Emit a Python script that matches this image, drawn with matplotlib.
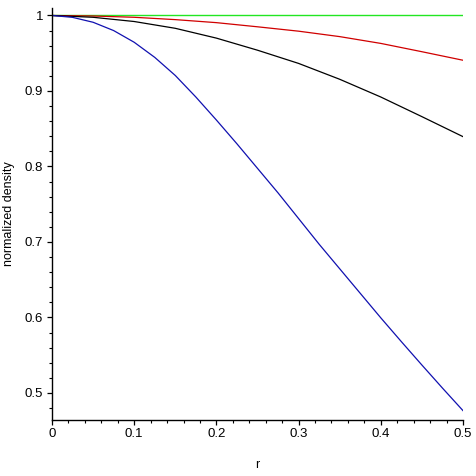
import matplotlib
matplotlib.use("Agg")
import matplotlib.pyplot as plt
from matplotlib.ticker import MultipleLocator

plt.rcParams['font.family'] = ['Liberation Sans', 'DejaVu Sans']

# values
r_coarse = [0.0, 0.05, 0.1, 0.15, 0.2, 0.25, 0.3, 0.35, 0.4, 0.45, 0.5]
green = [1.0] * 11
red = [1.0, 0.9993, 0.9976, 0.9945, 0.9905, 0.9850, 0.9792, 0.972, 0.963, 0.952, 0.9407]
black = [1.0, 0.9976, 0.9920, 0.983, 0.970, 0.954, 0.9365, 0.9155, 0.892, 0.866, 0.8395]

r_fine = [0.0, 0.025, 0.05, 0.075, 0.1, 0.125, 0.15, 0.175, 0.2, 0.225, 0.25,
          0.275, 0.3, 0.325, 0.35, 0.375, 0.4, 0.425, 0.45, 0.475, 0.5]
blue = [1.0, 0.9975, 0.991, 0.980, 0.9645, 0.9445, 0.9205, 0.892, 0.8615, 0.830, 0.7975,
        0.765, 0.731, 0.697, 0.6645, 0.632, 0.5995, 0.568, 0.537, 0.5065, 0.4766]

xticks = [0, 0.1, 0.2, 0.3, 0.4, 0.5]
xticklabels = ["0", "0.1", "0.2", "0.3", "0.4", "0.5"]
yticks = [0.5, 0.6, 0.7, 0.8, 0.9, 1.0]
yticklabels = ["0.5", "0.6", "0.7", "0.8", "0.9", "1"]

fig = plt.figure(figsize=(4.76, 4.76), dpi=100)
ax = fig.add_axes([52 / 476, 1 - 420 / 476, (463 - 52) / 476, (420 - 8) / 476])

ax.plot(r_coarse, green, color='#22e622', lw=1.0)
ax.plot(r_coarse, red, color='#d00000', lw=0.9)
ax.plot(r_coarse, black, color='black', lw=0.9)
ax.plot(r_fine, blue, color='#1010b0', lw=0.9)

ax.set_xlim(0, 0.5)
ax.set_ylim(0.4642, 1.0099)

for s in ['top', 'right']:
    ax.spines[s].set_visible(False)
for s in ['left', 'bottom']:
    ax.spines[s].set_linewidth(1.0)

ax.set_xticks(xticks)
ax.set_xticklabels(xticklabels)
ax.set_yticks(yticks)
ax.set_yticklabels(yticklabels)
ax.xaxis.set_minor_locator(MultipleLocator(0.02))
ax.yaxis.set_minor_locator(MultipleLocator(0.02))
ax.tick_params(which='major', direction='out', length=3.5, width=0.9, labelsize=9.5)
ax.tick_params(axis='y', which='major', pad=3)
ax.tick_params(axis='x', which='major', pad=2)
ax.tick_params(which='minor', direction='out', length=2, width=0.8)

ax.set_xlabel("r", fontsize=9, labelpad=14)
ax.set_ylabel("normalized density", fontsize=9, labelpad=7)

fig.savefig("out.png", dpi=100)
